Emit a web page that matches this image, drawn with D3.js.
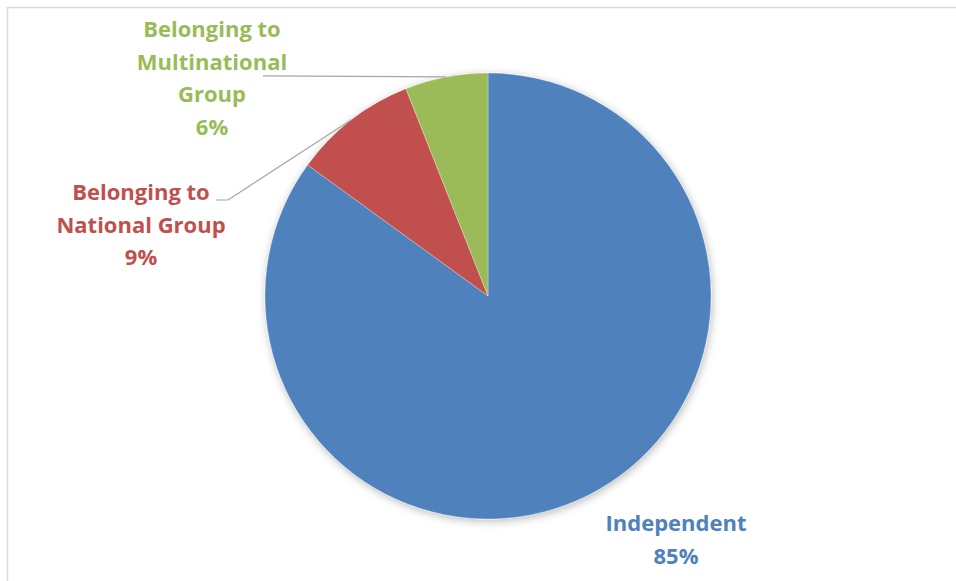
<!DOCTYPE html>
<html>
<head>
<meta charset="utf-8">
<script src="https://cdn.jsdelivr.net/npm/d3@7/dist/d3.min.js"></script>
<style>
  html, body { margin: 0; padding: 0; background: #fff; }
  svg { display: block; }
  text { font-family: "Open Sans", "Liberation Sans", sans-serif; font-weight: 700; }
</style>
</head>
<body>
<svg id="chart" width="956" height="581"></svg>
<script>
// Ownership structure of the firms
const categories = ["Independent", "Belonging to National Group", "Belonging to Multinational Group"];
const values = [85, 9, 6];
const colors = ["#4F81BD", "#C0504D", "#9BBB59"];
const labelLines = [
  ["Independent", "85%"],
  ["Belonging to", "National Group", "9%"],
  ["Belonging to", "Multinational", "Group", "6%"]
];

// Layout
const W = 956, H = 581;
const cx = 488, cy = 296, R = 223;
const lineH = 32.5;
const labelPos = [
  { x: 676, y: 531, leader: false },
  { x: 141, y: 200, leader: true, elbowX: 228, endX: 216 },
  { x: 212, y: 37, leader: true, elbowX: 263, endX: 263 }
];

const svg = d3.select("#chart");

// Chart frame
svg.append("rect")
  .attr("x", 7.5).attr("y", 7.5)
  .attr("width", W + 10).attr("height", H + 10)
  .attr("fill", "none")
  .attr("stroke", "#d9d9d9")
  .attr("stroke-width", 1.5);

const defs = svg.append("defs");
const shadow = defs.append("filter").attr("id", "pieShadow")
  .attr("x", "-20%").attr("y", "-20%").attr("width", "140%").attr("height", "140%");
shadow.append("feDropShadow")
  .attr("dx", 1).attr("dy", 2).attr("stdDeviation", 4)
  .attr("flood-color", "#000").attr("flood-opacity", 0.28);

const pie = d3.pie().sort(null).value(d => d)(values);
const arc = d3.arc().innerRadius(0).outerRadius(R);
const rim = d3.arc().innerRadius(R).outerRadius(R);

const g = svg.append("g").attr("transform", `translate(${cx},${cy})`);
g.append("g").attr("filter", "url(#pieShadow)")
  .selectAll("path")
  .data(pie)
  .join("path")
  .attr("d", arc)
  .attr("fill", (d, i) => colors[i])
  .attr("stroke", "#fff")
  .attr("stroke-width", 0.3);

// Leader lines from slice rims to their labels
pie.forEach((d, i) => {
  const lp = labelPos[i];
  if (!lp.leader) return;
  const c = rim.centroid(d);
  const p = [cx + c[0], cy + c[1]];
  const pts = [[lp.endX, lp.y], [lp.elbowX, lp.y], p];
  if (i === 2) pts[0] = [lp.endX, p[1] - 1], pts[1] = [lp.elbowX, p[1] - 1];
  svg.append("path")
    .attr("d", d3.line()(pts))
    .attr("fill", "none")
    .attr("stroke", "#a6a6a6")
    .attr("stroke-width", 1.2);
});

// Data labels
labelLines.forEach((lines, i) => {
  const lp = labelPos[i];
  const t = svg.append("text")
    .attr("text-anchor", "middle")
    .attr("fill", colors[i])
    .attr("font-size", 22);
  lines.forEach((s, k) => {
    t.append("tspan").attr("x", lp.x).attr("y", lp.y + k * lineH).text(s);
  });
});
</script>
</body>
</html>
